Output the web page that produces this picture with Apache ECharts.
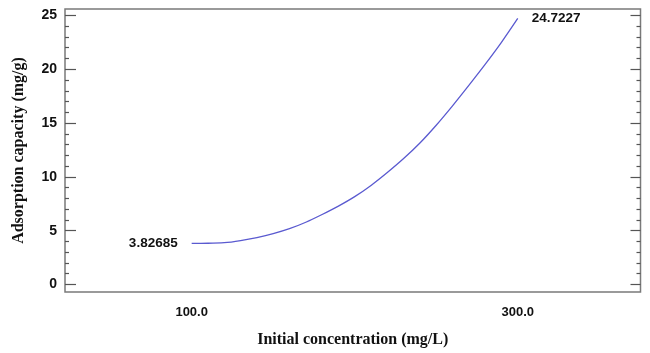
<!DOCTYPE html>
<html>
<head>
<meta charset="utf-8">
<script src="https://cdn.jsdelivr.net/npm/echarts@6/dist/echarts.min.js"></script>
<style>html,body{margin:0;padding:0;background:#fff}#c{width:650px;height:353px}</style>
</head>
<body>
<div id="c"></div>
<script>
// Data
const concentration = [100,110,120,130,140,150,160,170,180,190,200,210,220,230,240,250,260,270,280,290,300];
const capacity = [3.82685,3.83,3.88,4.08,4.36,4.72,5.18,5.78,6.50,7.28,8.16,9.20,10.40,11.70,13.15,14.80,16.60,18.50,20.45,22.50,24.7227];
const yMajorTicks = [0,5,10,15,20,25];
const yMinorTicks = [1,2,3,4,6,7,8,9,11,12,13,14,16,17,18,19,21,22,23,24];
const xTicks = [100,300];
const xName = 'Initial concentration (mg/L)';
const yName = 'Adsorption capacity (mg/g)';

const X_MIN = 22.3, X_MAX = 375.3, Y_MIN = -0.7, Y_MAX = 25.6;
const tickColor = '#555';
const lbl = {fontFamily:'Liberation Sans, Arial, sans-serif', fontWeight:'bold', fontSize:13, color:'#111'};
const nameStyle = {fontFamily:'Liberation Serif, Times New Roman, serif', fontWeight:'bold', fontSize:16, color:'#111'};

const seriesData = concentration.map((x,i)=>{
  const item = {value:[x, capacity[i]]};
  if (i === 0) item.label = {show:true, position:'left', distance:14, formatter: String(capacity[i]), ...lbl, fontSize:13.5};
  if (i === concentration.length-1) item.label = {show:true, position:'right', distance:14, formatter: String(capacity[i]), ...lbl, fontSize:13.5};
  return item;
});

function yAx(pos, custom, len, showLabel, extra){
  return Object.assign({
    type:'value', position:pos, min:Y_MIN, max:Y_MAX,
    axisLine:{show:false}, splitLine:{show:false},
    axisTick:{show:true, inside:true, length:len, customValues:custom, lineStyle:{color:tickColor, width:1.2}},
    axisLabel:{show:showLabel, customValues:custom, margin:8, ...lbl, fontSize:14}
  }, extra||{});
}

const chart = echarts.init(document.getElementById('c'), null, {renderer:'canvas'});
chart.setOption({
  animation:false,
  backgroundColor:'#fff',
  grid:{left:65, right:9.5, top:9, bottom:60, show:true, borderColor:'#7a7a7a', borderWidth:1.5, backgroundColor:'transparent'},
  xAxis:{
    type:'value', min:X_MIN, max:X_MAX,
    axisLine:{show:false}, axisTick:{show:false}, splitLine:{show:false},
    axisLabel:{customValues:xTicks, formatter:v=>Number(v).toFixed(1), margin:14, ...lbl},
    name:xName, nameLocation:'middle', nameGap:40, nameTextStyle:nameStyle
  },
  yAxis:[
    yAx('left', yMajorTicks, 11, true, {name:yName, nameLocation:'middle', nameGap:38, nameTextStyle:nameStyle}),
    yAx('left', yMinorTicks, 4, false),
    yAx('right', yMajorTicks, 10, false),
    yAx('right', yMinorTicks, 4, false)
  ],
  series:[{
    type:'line', xAxisIndex:0, yAxisIndex:0,
    data:seriesData, smooth:0.3, symbol:'circle', symbolSize:0.01, showAllSymbol:true,
    lineStyle:{color:'#5a5ad0', width:1.3},
    itemStyle:{color:'#5a5ad0'},
    label:{show:false}
  }]
});
</script>
</body>
</html>
